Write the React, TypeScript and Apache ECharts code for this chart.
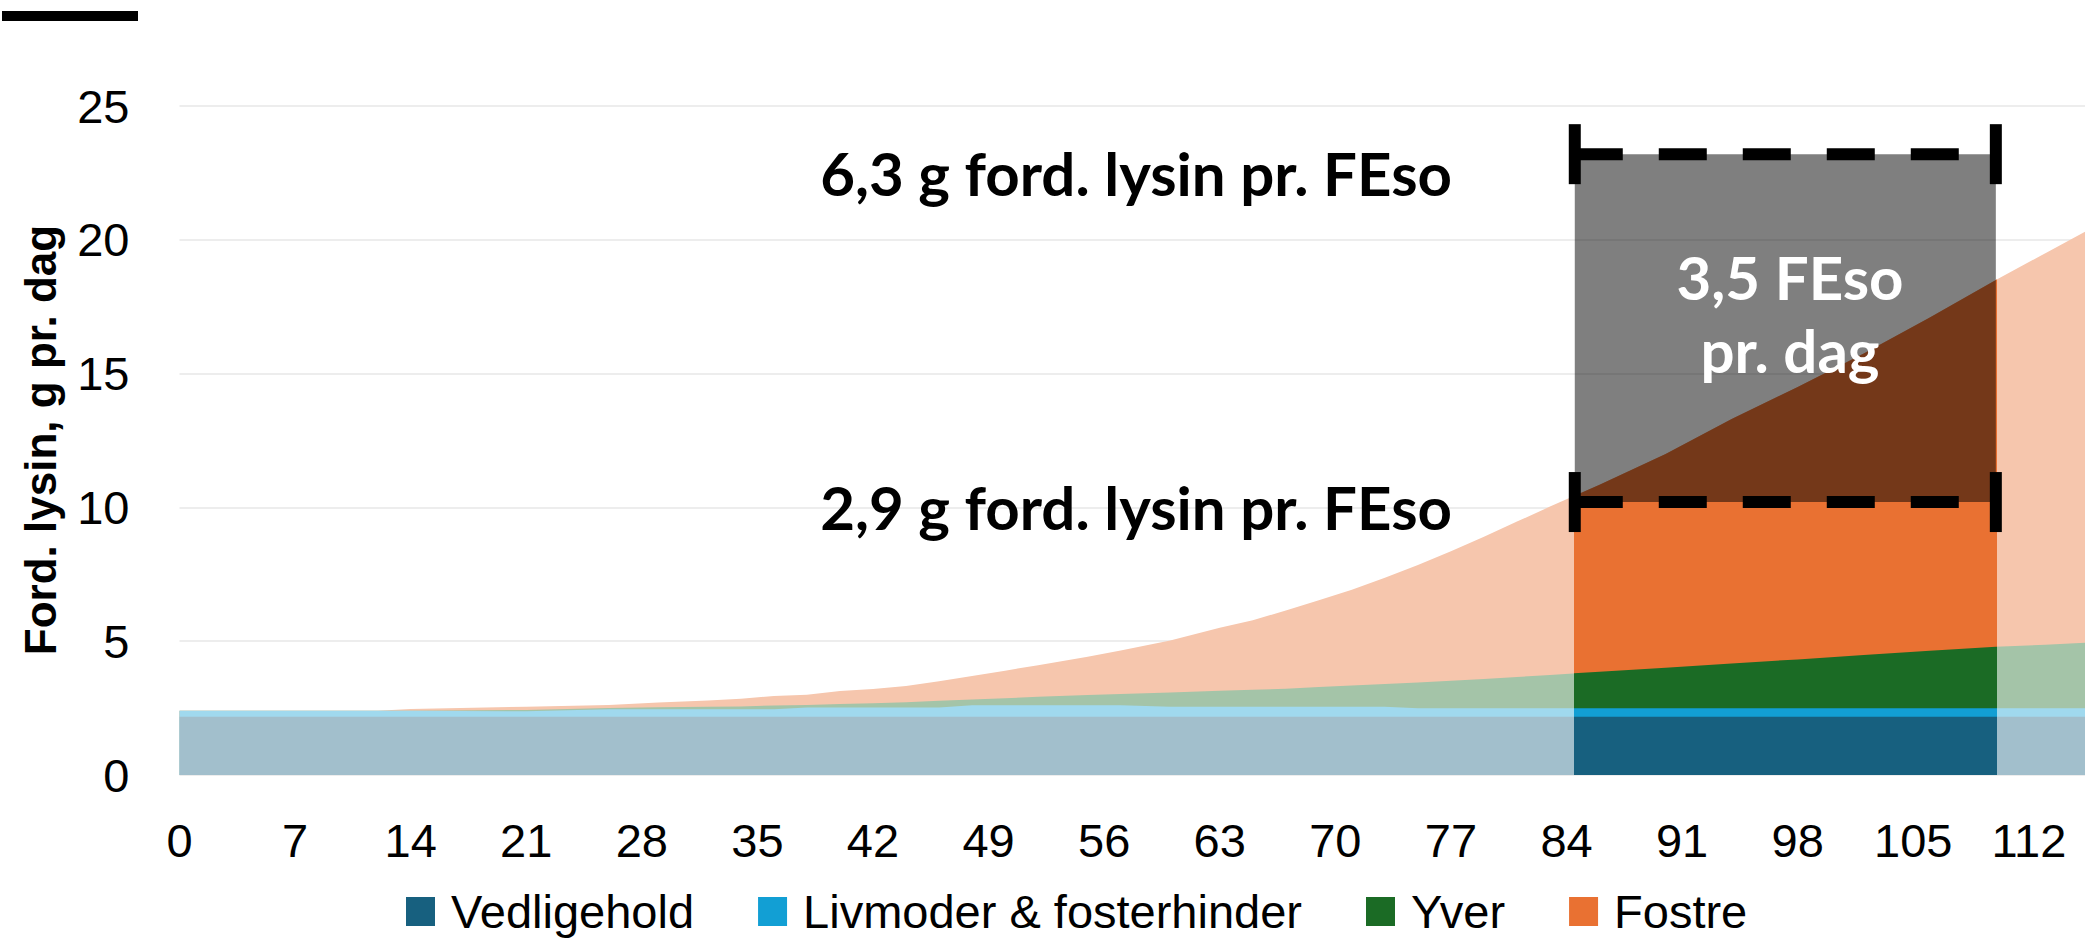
import React, { useEffect, useRef } from 'react';
import * as echarts from 'echarts';

// Gestation day (x) sample points
const days = [0, 7, 12, 14, 21, 26, 29, 32, 34, 36, 38, 40, 42, 44, 46, 48, 50, 52, 55, 57, 60, 63, 65, 67, 69, 71, 73, 75, 77, 79, 81, 83, 86, 90, 94, 98, 102, 106, 110, 113, 116];

// Ford. lysin, g pr. dag per component (stacked)
const vedligehold = [2.18, 2.18, 2.18, 2.18, 2.18, 2.18, 2.18, 2.18, 2.18, 2.18, 2.18, 2.18, 2.18, 2.18, 2.18, 2.18, 2.18, 2.18, 2.18, 2.18, 2.18, 2.18, 2.18, 2.18, 2.18, 2.18, 2.18, 2.18, 2.18, 2.18, 2.18, 2.18, 2.18, 2.18, 2.18, 2.18, 2.18, 2.18, 2.18, 2.18, 2.18];
const livmoder = [0.22, 0.22, 0.22, 0.22, 0.2, 0.28, 0.28, 0.28, 0.28, 0.28, 0.34, 0.34, 0.34, 0.34, 0.34, 0.43, 0.43, 0.43, 0.43, 0.43, 0.37, 0.37, 0.37, 0.37, 0.37, 0.37, 0.37, 0.31, 0.31, 0.31, 0.31, 0.31, 0.31, 0.31, 0.31, 0.31, 0.31, 0.31, 0.31, 0.31, 0.31];
const yver = [0, 0, 0, 0, 0.05, 0.04, 0.07, 0.09, 0.1, 0.14, 0.1, 0.13, 0.16, 0.2, 0.25, 0.21, 0.26, 0.31, 0.38, 0.42, 0.53, 0.6, 0.64, 0.67, 0.74, 0.79, 0.85, 0.97, 1.03, 1.1, 1.17, 1.25, 1.37, 1.52, 1.68, 1.83, 1.99, 2.15, 2.3, 2.38, 2.47];
const fostre = [0, 0, 0, 0.07, 0.12, 0.12, 0.18, 0.23, 0.29, 0.35, 0.38, 0.49, 0.53, 0.61, 0.73, 0.88, 1.03, 1.18, 1.43, 1.62, 1.95, 2.35, 2.59, 2.93, 3.24, 3.58, 3.97, 4.39, 4.84, 5.31, 5.81, 6.29, 6.99, 7.99, 9.13, 10.18, 11.27, 12.46, 13.71, 14.63, 15.54];

const seriesNames = ['Vedligehold', 'Livmoder & fosterhinder', 'Yver', 'Fostre'];
const seriesValues = [vedligehold, livmoder, yver, fostre];
const strongColors = ['#17607F', '#129FD4', '#1B6B25', '#E97132'];
const fadedColors = ['#A2BFCC', '#A0D9EE', '#A4C4A8', '#F6C6AD'];

// Highlighted period and lysine levels
const boxStart = 84.5;
const boxEnd = 110;
const lowLevel = 10.2;
const highLevel = 23.2;

const xMax = 115.4;
const yTicks = [0, 5, 10, 15, 20, 25];

const W = 2085;
const H = 938;
const plotLeft = 179.5;
const plotRight = 0;
const plotTop = 106;
const plotBottom = 163;

const AXIS_FONT = '"Liberation Sans", Arial, sans-serif';
const NOTE_FONT = 'Lato, "Open Sans", sans-serif';

export default function App() {
  const ref = useRef<HTMLDivElement>(null);

  useEffect(() => {
    if (!ref.current) return;
    const chart = echarts.init(ref.current, undefined, { renderer: 'svg' });
    const plotWidth = W - plotLeft - plotRight;
    const pxPerDay = plotWidth / xMax;
    const hiLeft = plotLeft + boxStart * pxPerDay;
    const hiRight = W - (plotLeft + boxEnd * pxPerDay);

    // cumulative (stacked) tops, built from the component arrays
    const cumulative = seriesValues.map((_, i) =>
      days.map((d, j) => {
        let s = 0;
        for (let k = 0; k <= i; k++) s += seriesValues[k][j];
        return [d, Math.round(s * 1000) / 1000];
      })
    );

    const series: any[] = [];
    const order = [3, 2, 1, 0];
    order.forEach((i) => {
      series.push({
        type: 'line',
        name: seriesNames[i],
        xAxisIndex: 1,
        yAxisIndex: 1,
        data: cumulative[i],
        symbol: 'none',
        showSymbol: false,
        silent: true,
        lineStyle: { width: 0, opacity: 0 },
        itemStyle: { color: strongColors[i] },
        areaStyle: { color: strongColors[i], opacity: 1, origin: 'start' },
        z: 3,
      });
    });
    order.forEach((i) => {
      series.push({
        type: 'line',
        name: seriesNames[i],
        xAxisIndex: 0,
        yAxisIndex: 0,
        data: cumulative[i],
        symbol: 'none',
        showSymbol: false,
        silent: true,
        lineStyle: { width: 0, opacity: 0 },
        itemStyle: { color: fadedColors[i] },
        areaStyle: { color: fadedColors[i], opacity: 1, origin: 'start' },
        z: 2,
      });
    });
    // translucent grey box (FEso range) on top of the highlighted areas
    series.push({
      type: 'custom',
      name: 'box',
      xAxisIndex: 0,
      yAxisIndex: 0,
      silent: true,
      z: 4,
      encode: { x: [0, 2], y: [1, 3] },
      data: [[boxStart, lowLevel, boxEnd, highLevel]],
      renderItem: (params: any, api: any) => {
        const p0 = api.coord([api.value(0), api.value(3)]);
        const p1 = api.coord([api.value(2), api.value(1)]);
        return {
          type: 'rect',
          shape: { x: p0[0], y: p0[1], width: p1[0] - p0[0], height: p1[1] - p0[1] },
          style: { fill: 'rgba(0,0,0,0.5)' },
        };
      },
    });
    [lowLevel, highLevel].forEach((lvl, k) => {
      series.push({
        type: 'line',
        name: 'level' + k,
        xAxisIndex: 0,
        yAxisIndex: 0,
        data: [[boxStart, lvl], [boxEnd, lvl]],
        symbol: 'none',
        silent: true,
        lineStyle: { color: '#000', width: 12, type: [48, 36], cap: 'butt', opacity: 1 },
        z: 5,
      });
    });
    series.push({
      type: 'scatter',
      name: 'ends',
      xAxisIndex: 0,
      yAxisIndex: 0,
      data: [[boxStart, lowLevel], [boxEnd, lowLevel], [boxStart, highLevel], [boxEnd, highLevel]],
      symbol: 'rect',
      symbolSize: [12, 60],
      silent: true,
      itemStyle: { color: '#000', opacity: 1 },
      z: 6,
    });

    chart.setOption({
      animation: false,
      backgroundColor: '#ffffff',
      grid: [
        { left: plotLeft, right: plotRight, top: plotTop, bottom: plotBottom },
        { left: hiLeft, right: hiRight, top: plotTop, bottom: plotBottom },
      ],
      xAxis: [
        {
          type: 'value',
          gridIndex: 0,
          min: 0,
          max: xMax,
          interval: 7,
          axisLine: { show: false },
          axisTick: { show: false },
          splitLine: { show: false },
          axisLabel: {
            showMaxLabel: false,
            fontFamily: AXIS_FONT,
            fontSize: 47,
            color: '#000',
            margin: 42,
          },
        },
        { type: 'value', gridIndex: 1, min: boxStart, max: boxEnd, show: false, splitLine: { show: false } },
      ],
      yAxis: [
        {
          type: 'value',
          gridIndex: 0,
          min: yTicks[0],
          max: yTicks[yTicks.length - 1],
          interval: 5,
          axisLine: { show: false },
          axisTick: { show: false },
          splitLine: { show: true, lineStyle: { color: '#EDEDED', width: 2 } },
          axisLabel: {
            fontFamily: AXIS_FONT,
            fontSize: 47,
            color: '#000',
            margin: 50,
          },
        },
        { type: 'value', gridIndex: 1, min: 0, max: 25, show: false, splitLine: { show: false } },
      ],
      legend: {
        left: 401,
        top: 883,
        itemWidth: 29,
        itemHeight: 29,
        itemGap: 64,
        icon: 'rect',
        selectedMode: false,
        textStyle: {
          fontFamily: AXIS_FONT,
          fontSize: 47,
          color: '#000',
          padding: [0, 0, 0, 11],
        },
        data: seriesNames.map((n, i) => ({ name: n, itemStyle: { color: strongColors[i] } })),
      },
      graphic: [
        { type: 'rect', z: 100, shape: { x: 2, y: 11, width: 136, height: 10 }, style: { fill: '#000' } },
        {
          type: 'text', z: 100, x: 40, y: 440, rotation: Math.PI / 2,
          style: { text: 'Ford. lysin, g pr. dag', fontFamily: AXIS_FONT, fontWeight: 'bold', fontSize: 44, fill: '#000', align: 'center', verticalAlign: 'middle' },
        },
        {
          type: 'text', z: 100, x: 1452, y: 173,
          style: { text: '6,3 g ford. lysin pr. FEso', fontFamily: NOTE_FONT, fontWeight: 'bold', fontSize: 60, fill: '#000', align: 'right', verticalAlign: 'middle' },
        },
        {
          type: 'text', z: 100, x: 1452, y: 507,
          style: { text: '2,9 g ford. lysin pr. FEso', fontFamily: NOTE_FONT, fontWeight: 'bold', fontSize: 60, fill: '#000', align: 'right', verticalAlign: 'middle' },
        },
        {
          type: 'text', z: 100, x: 1790, y: 277,
          style: { text: '3,5 FEso', fontFamily: NOTE_FONT, fontWeight: 'bold', fontSize: 60, fill: '#fff', align: 'center', verticalAlign: 'middle' },
        },
        {
          type: 'text', z: 100, x: 1790, y: 350,
          style: { text: 'pr. dag', fontFamily: NOTE_FONT, fontWeight: 'bold', fontSize: 60, fill: '#fff', align: 'center', verticalAlign: 'middle' },
        },
      ],
      series,
    });
    return () => chart.dispose();
  }, []);

  return (
    <div
      ref={ref}
      style={{ position: 'fixed', left: 0, top: 0, width: W, height: H, background: '#fff' }}
    />
  );
}
